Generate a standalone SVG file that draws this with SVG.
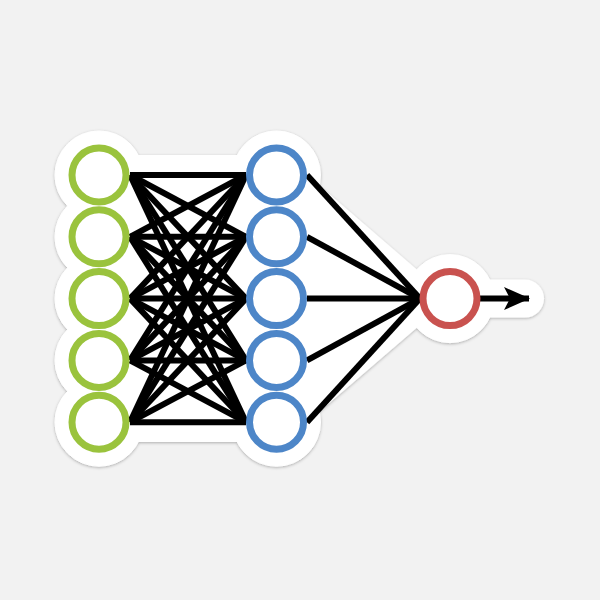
<svg xmlns="http://www.w3.org/2000/svg" width="600" height="600" viewBox="0 0 600 600">
  <defs>
    <filter id="shadow" x="-10%" y="-10%" width="120%" height="120%">
      <feDropShadow dx="0" dy="1" stdDeviation="1.5" flood-color="#000" flood-opacity="0.28"/>
    </filter>
    <marker id="arrow" viewBox="0 0 26 26" refX="25" refY="13" markerWidth="26" markerHeight="26" markerUnits="userSpaceOnUse" orient="auto">
      <path d="M0,1.5 L26,13 L0,24.5 L6,13 Z" fill="#000"/>
    </marker>
  </defs>
  <style>
    .edge { stroke: #000; stroke-width: 6; fill: none; }
    .node { fill: #fff; stroke-width: 7; }
    .in { stroke: #9ac33d; }
    .hid { stroke: #4d86c8; }
    .out { stroke: #c9524f; }
    .back { fill: #fff; stroke: #fff; stroke-linejoin: round; stroke-linecap: round; }
  </style>
  <rect width="600" height="600" fill="#f2f2f2"/>

  <!-- sticker backing -->
  <g filter="url(#shadow)">
    <g class="back">
      <circle cx="99" cy="175" r="44"/>
      <circle cx="99" cy="236.8" r="44"/>
      <circle cx="99" cy="298.6" r="44"/>
      <circle cx="99" cy="360.4" r="44"/>
      <circle cx="99" cy="422.2" r="44"/>
      <circle cx="276.5" cy="175" r="44"/>
      <circle cx="276.5" cy="236.8" r="44"/>
      <circle cx="276.5" cy="298.6" r="44"/>
      <circle cx="276.5" cy="360.4" r="44"/>
      <circle cx="276.5" cy="422.2" r="44"/>
      <circle cx="450" cy="298.6" r="44"/>
      <rect x="99" y="155" width="178" height="287" stroke="none"/>
      <polygon points="276.5,175 420,298.6 276.5,422.2" stroke-width="40"/>
      <line x1="450" y1="298.6" x2="525" y2="298.6" stroke-width="38"/>
    </g>
  </g>

  <!-- connectors -->
  <g id="connectors">
    <line class="edge" x1="130" y1="175" x2="246" y2="175"/>
    <line class="edge" x1="130" y1="175" x2="246" y2="236.8"/>
    <line class="edge" x1="130" y1="175" x2="246" y2="298.6"/>
    <line class="edge" x1="130" y1="175" x2="246" y2="360.4"/>
    <line class="edge" x1="130" y1="175" x2="246" y2="422.2"/>
    <line class="edge" x1="130" y1="236.8" x2="246" y2="175"/>
    <line class="edge" x1="130" y1="236.8" x2="246" y2="236.8"/>
    <line class="edge" x1="130" y1="236.8" x2="246" y2="298.6"/>
    <line class="edge" x1="130" y1="236.8" x2="246" y2="360.4"/>
    <line class="edge" x1="130" y1="236.8" x2="246" y2="422.2"/>
    <line class="edge" x1="130" y1="298.6" x2="246" y2="175"/>
    <line class="edge" x1="130" y1="298.6" x2="246" y2="236.8"/>
    <line class="edge" x1="130" y1="298.6" x2="246" y2="298.6"/>
    <line class="edge" x1="130" y1="298.6" x2="246" y2="360.4"/>
    <line class="edge" x1="130" y1="298.6" x2="246" y2="422.2"/>
    <line class="edge" x1="130" y1="360.4" x2="246" y2="175"/>
    <line class="edge" x1="130" y1="360.4" x2="246" y2="236.8"/>
    <line class="edge" x1="130" y1="360.4" x2="246" y2="298.6"/>
    <line class="edge" x1="130" y1="360.4" x2="246" y2="360.4"/>
    <line class="edge" x1="130" y1="360.4" x2="246" y2="422.2"/>
    <line class="edge" x1="130" y1="422.2" x2="246" y2="175"/>
    <line class="edge" x1="130" y1="422.2" x2="246" y2="236.8"/>
    <line class="edge" x1="130" y1="422.2" x2="246" y2="298.6"/>
    <line class="edge" x1="130" y1="422.2" x2="246" y2="360.4"/>
    <line class="edge" x1="130" y1="422.2" x2="246" y2="422.2"/>
    <line class="edge" x1="307" y1="175" x2="420" y2="298.6"/>
    <line class="edge" x1="307" y1="236.8" x2="420" y2="298.6"/>
    <line class="edge" x1="307" y1="298.6" x2="420" y2="298.6"/>
    <line class="edge" x1="307" y1="360.4" x2="420" y2="298.6"/>
    <line class="edge" x1="307" y1="422.2" x2="420" y2="298.6"/>
    <line class="edge" x1="480" y1="298.6" x2="529" y2="298.6" marker-end="url(#arrow)"/>
  </g>

  <!-- input layer -->
  <g id="in1"><circle class="node in" cx="99" cy="175" r="27"/></g>
  <g id="in2"><circle class="node in" cx="99" cy="236.8" r="27"/></g>
  <g id="in3"><circle class="node in" cx="99" cy="298.6" r="27"/></g>
  <g id="in4"><circle class="node in" cx="99" cy="360.4" r="27"/></g>
  <g id="in5"><circle class="node in" cx="99" cy="422.2" r="27"/></g>
  <!-- hidden layer -->
  <g id="h1"><circle class="node hid" cx="276.5" cy="175" r="27"/></g>
  <g id="h2"><circle class="node hid" cx="276.5" cy="236.8" r="27"/></g>
  <g id="h3"><circle class="node hid" cx="276.5" cy="298.6" r="27"/></g>
  <g id="h4"><circle class="node hid" cx="276.5" cy="360.4" r="27"/></g>
  <g id="h5"><circle class="node hid" cx="276.5" cy="422.2" r="27"/></g>
  <!-- output -->
  <g id="out"><circle class="node out" cx="450" cy="298.6" r="27"/></g>
</svg>
